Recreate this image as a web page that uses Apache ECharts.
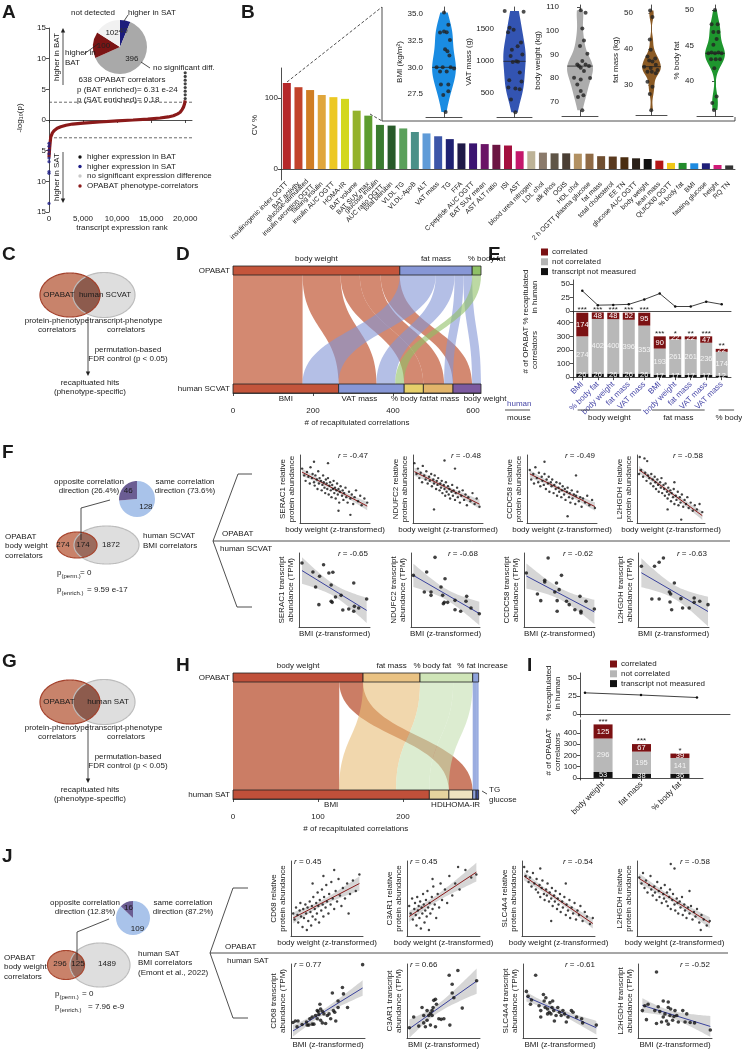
<!DOCTYPE html>
<html><head><meta charset="utf-8">
<script src="https://cdn.jsdelivr.net/npm/echarts@6/dist/echarts.min.js"></script>
<style>html,body{margin:0;padding:0;background:#fff}#c{width:742px;height:1050px}</style>
</head><body><div id="c"></div>
<script>
// ================= DATA =================
// A
const A_curve=[[0,-6.1],[100,-4.5],[250,-2.8],[500,-2.1],[740,-1.75],[1200,-1.35],[1730,-1.1],[2500,-0.85],[3460,-0.66],[5000,-0.5],[7400,-0.33],[10000,-0.15],[12350,0],[14500,0.15],[16300,0.33],[17500,0.5],[18270,0.7],[18900,1.0],[19260,1.26],[19550,1.7],[19750,2.1],[19900,2.6],[20000,3.2]];
const A_higherBAT=[[20000,3.5],[20000,4.1],[20000,4.7],[20000,5.3],[20000,5.9],[20000,6.5],[20000,7.1],[20000,7.7]];
const A_higherSAT=[[0,-3.8],[0,-4.3],[0,-4.9],[0,-5.5],[0,-6.2],[0,-6.8],[0,-8.4],[0,-8.7],[0,-13.6]];
const A_threshold=2.9;
const A_pieNames=['higher in SAT','no significant diff.','higher in BAT','not detected'];
const A_pieValues=[40,396,100,102];
const A_xTicks=[0,5000,10000,15000,20000];
// B
const B_cats=['insulinogenic index OGTT','BAT activity','glucose-stimulated\ninsulin secretion OGTT','fasting insulin','insulin AUC OGTT','HOMA-IR','BAT volume','BAT SUV max','glucose insulin\nAUC ratio OGTT','total bilirubin','VLDL TG','VLDL-ApoB','ALT','VAT mass','TG','FFA','C-peptide AUC OGTT','BAT SUV mean','AST ALT ratio','ISI','AST','blood urea nitrogen','LDL chol','alk phos','OGIS','HDL chol','2 h OGTT plasma glucose','fat mass','total cholesterol','EE TN','glucose AUC OGTT','body weight','lean mass','QUICKI0 OGTT','% body fat','BMI','fasting glucose','height','RQ TN'];
const B_cv=[121,115,111,104,101,98.6,82,75,62,61,57,52,50,46,42,36,36,35,34,33,25,25,23,22,22,21.5,21.5,18,17.5,16.5,15,14,11.7,8.5,8.5,8,8,5.6,5];
const B_ticks=[0,100];
const V_bmi=[[0,35.15],[0.24,34.0],[-0.22,33.26],[0,33.35],[0.15,33.3],[0.33,32.57],[0.19,31.5],[0.06,31.7],[0.3,31.1],[-0.41,30.0],[-0.07,30.0],[0.37,30.0],[0.56,29.9],[-0.22,29.6],[0.15,29.6],[-0.17,28.4],[0.24,28.4],[0.24,27.75],[-0.04,27.4],[0.09,25.8]];
const V_vat=[[-0.56,1780],[0.52,1770],[-0.28,1520],[-0.05,1490],[-0.37,1450],[0.37,1290],[0.18,1230],[-0.15,1175],[0.45,1100],[-0.22,1080],[0.1,995],[-0.1,985],[0.3,820],[-0.3,700],[0.4,680],[-0.35,585],[0.05,570],[0.3,560],[-0.2,400],[0.05,200],[0.2,990]];
const V_bw=[[0.04,108.6],[0.31,107.5],[0.13,100.9],[0.22,95.9],[0,93.5],[0.41,90.3],[0.13,87.2],[-0.15,85.8],[0.31,85.8],[-0.06,85.1],[0.5,85.1],[0.04,84.4],[0.22,83.0],[-0.33,80.2],[0.56,80.1],[0.04,79.5],[-0.15,77.4],[0.04,74.6],[0.19,72.8],[-0.11,72.1],[0.13,66.5]];
const V_fm=[[-0.09,50.7],[0.06,48.9],[-0.11,42.6],[-0.05,39.8],[-0.26,37.9],[0.24,37.4],[-0.15,36.8],[0.06,36.5],[0.28,35.6],[-0.47,35.1],[-0.05,34.7],[0.39,34.2],[-0.26,33.7],[0.02,33.7],[0.28,33.3],[-0.26,30.9],[0.06,29.5],[-0.11,27.5],[-0.02,23.0]];
const V_pbf=[[0,50],[-0.19,48],[0.15,48],[-0.09,46.9],[0.19,46.9],[0.09,45.9],[-0.09,45.1],[-0.37,43.9],[-0.19,44.0],[0,43.9],[0.19,44.0],[0.37,43.9],[-0.22,43.05],[0.04,43.05],[0.28,43.05],[-0.04,41.8],[0.09,37.8],[-0.15,36.9],[-0.06,35.9]];
// D
const D_top=['body weight','fat mass','% body fat'];
const D_bottom=['BMI','VAT mass','% body fat','fat mass','body weight'];
const D_flows=[['body weight','BMI',174],['body weight','VAT mass',95],['body weight','% body fat',48],['body weight','fat mass',52],['body weight','body weight',48],['fat mass','BMI',90],['fat mass','VAT mass',47],['fat mass','fat mass',22],['fat mass','body weight',22],['% body fat','VAT mass',22]];
const D_ticks=[0,200,400,600];
// E
const E_cats=['BMI','% body fat','body weight','fat mass','VAT mass','BMI','body weight','fat mass','VAT mass','VAT mass'];
const E_groups=['body weight','fat mass','% body fat'];
const E_correlated=[174,48,48,52,95,90,22,22,47,22];
const E_notCorrelated=[274,402,400,396,353,193,261,261,236,174];
const E_notMeasured=[26,26,26,26,26,17,17,17,17,12];
const E_pct=[37,10.5,11,12,21,32,8,8,17,12];
const E_stars=['***','***','***','***','***','***','*','**','***','**'];
const E_pctTicks=[0,25,50], E_nTicks=[0,100,200,300,400];
// F
const F_pie=[128,46];
const F_venn=[274,174,1872];
const F_r1=[-0.47,-0.48,-0.49,-0.58], F_r2=[-0.65,-0.68,-0.62,-0.63];
const F_genes=['SERAC1','NDUFC2','CCDC58','L2HGDH'];
const F_p1=[[3,80],[6,70],[8,62],[10,75],[12,68],[14,58],[15,82],[17,66],[18,72],[20,60],[21,55],[22,70],[24,64],[25,50],[26,76],[27,58],[28,66],[30,62],[31,48],[32,56],[33,70],[34,60],[35,52],[36,44],[37,64],[38,58],[39,50],[40,66],[41,42],[42,55],[43,60],[44,48],[45,38],[46,56],[47,50],[48,62],[49,44],[50,52],[51,36],[52,48],[53,58],[54,42],[55,50],[56,30],[57,46],[58,54],[60,40],[61,48],[62,34],[63,44],[65,52],[66,38],[68,30],[70,46],[72,36],[74,42],[76,28],[78,38],[80,48],[83,32],[86,40],[88,26],[92,36],[96,30],[40,88],[55,18],[72,12],[20,90]];
const F_p2=[[2,88],[5,72],[7,80],[9,66],[11,74],[13,60],[14,84],[16,70],[18,64],[19,76],[21,58],[23,68],[24,62],[26,72],[27,54],[29,64],[30,58],[31,70],[33,50],[34,62],[35,56],[36,66],[38,48],[39,58],[40,52],[41,62],[42,44],[44,56],[45,50],[46,40],[47,60],[48,46],[50,54],[51,42],[52,50],[53,36],[55,46],[56,56],[57,40],[58,48],[60,34],[61,44],[63,52],[64,38],[66,46],[67,30],[69,40],[71,48],[73,34],[75,42],[77,26],[79,38],[82,32],[85,44],[88,28],[91,36],[95,24],[30,20],[60,80],[45,92]];
const F_p3=[[4,78],[6,64],[9,72],[10,58],[12,82],[14,66],[16,60],[17,74],[19,54],[21,68],[22,62],[24,56],[25,72],[27,50],[28,64],[30,58],[31,68],[32,46],[34,60],[35,54],[36,64],[38,44],[39,56],[41,50],[42,60],[43,40],[45,52],[46,46],[47,58],[49,38],[50,48],[51,54],[53,42],[54,50],[55,34],[57,46],[58,52],[60,38],[61,44],[62,30],[64,48],[65,36],[67,42],[69,28],[70,40],[72,46],[74,32],[76,38],[78,24],[80,36],[83,30],[86,40],[89,26],[93,34],[97,22],[58,10],[25,90],[70,70]];
const F_p4=[[4,97],[11,95],[15,91],[3,72],[6,78],[9,68],[12,74],[14,62],[16,70],[18,66],[20,58],[21,72],[23,64],[24,54],[26,68],[27,60],[28,50],[30,64],[31,56],[32,46],[34,60],[35,52],[36,66],[37,44],[39,56],[40,50],[41,40],[42,58],[44,46],[45,36],[46,52],[47,42],[49,48],[50,32],[51,44],[53,38],[54,50],[55,28],[57,40],[58,34],[60,46],[61,26],[63,38],[64,30],[66,42],[68,24],[70,34],[72,28],[74,38],[76,22],[79,30],[82,18],[85,26],[88,20],[92,28],[96,16],[65,5],[45,20],[55,60]];
const F_t1=[[4.2,86.5],[19.6,74.3],[29.0,68.5],[23.4,54.1],[34.6,84.2],[42.1,73.0],[47.7,73.9],[45.3,56.8],[28.0,30.2],[51.4,40.5],[45.3,34.7],[46.7,33.3],[59.3,42.8],[61.7,23.0],[70.1,24.3],[77.1,59.5],[78.0,27.9],[77.1,21.2],[84.1,25.7],[95.3,37.8]];
const F_t2=[[3.4,69.8],[22.7,74.3],[34.8,94.1],[49.3,65.3],[43.5,54.1],[19.3,47.3],[29.0,47.3],[29.0,42.8],[45.9,42.8],[46.9,31.5],[48.3,33.3],[53.1,33.3],[63.8,36.0],[63.8,23.4],[72.0,21.2],[80.7,41.4],[79.7,34.7],[87.0,25.7],[99.0,18.0]];
const F_t3=[[3.3,73.0],[18.9,44.6],[23.6,35.6],[29.2,60.8],[29.2,63.1],[34.0,93.2],[43.4,47.3],[45.8,59.5],[49.5,50.5],[52.8,69.8],[46.7,35.6],[46.7,21.2],[59.9,34.7],[63.7,30.2],[71.7,23.4],[78.8,41.4],[80.2,21.2],[80.2,18.9],[87.3,34.7],[99.1,24.3]];
const F_t4=[[4.7,82.0],[23.3,82.0],[29.8,87.4],[35.8,93.2],[19.5,37.8],[29.8,37.8],[51.2,59.5],[44.2,47.3],[46.0,44.6],[45.1,33.8],[47.4,23.4],[60.5,38.3],[62.8,25.7],[72.1,25.7],[79.1,39.2],[79.1,33.3],[87.0,34.7],[98.6,30.2]];
// H
const H_top=['body weight','fat mass','% body fat','% fat increase'];
const H_bottom=['BMI','HDL','HOMA-IR','TG','glucose'];
const H_flows=[['body weight','BMI',125],['body weight','HOMA-IR',28],['fat mass','BMI',67],['% body fat','BMI',39],['% body fat','HDL',23],['% fat increase','TG',4],['% fat increase','glucose',3]];
const H_ticks=[0,100,200];
// I
const I_cats=['body weight','fat mass','% body fat'];
const I_correlated=[125,67,39];
const I_notCorrelated=[296,195,141];
const I_notMeasured=[53,38,36];
const I_pct=[29.5,26.5,23];
const I_stars=['***','***','*'];
// J
const J_pie=[109,16];
const J_venn=[296,125,1489];
const J_r1=[0.45,0.45,-0.54,-0.58], J_r2=[0.77,0.66,-0.61,-0.52];
const J_genes=['CD68','C3AR1','SLC4A4','L2HGDH'];
const J_p1=[[3,30],[5,22],[7,38],[9,28],[10,18],[12,34],[13,44],[14,26],[16,12],[17,36],[18,24],[20,42],[21,30],[22,8],[23,38],[24,20],[26,46],[27,32],[28,14],[29,40],[30,26],[31,52],[33,36],[34,22],[35,44],[36,30],[37,58],[38,40],[39,18],[40,48],[42,34],[43,62],[44,42],[45,26],[46,52],[48,38],[49,68],[50,46],[52,30],[53,56],[55,42],[56,72],[58,50],[60,36],[62,60],[64,46],[66,76],[68,54],[70,40],[72,64],[75,50],[78,70],[82,56],[86,74],[90,60],[95,82],[60,88],[45,80],[30,70],[80,30]];
const J_p2=[[3,40],[5,30],[7,50],[8,22],[10,36],[11,44],[12,28],[13,14],[14,52],[15,34],[16,40],[17,24],[18,46],[19,10],[20,38],[21,30],[22,56],[23,42],[24,18],[25,34],[26,48],[27,26],[28,60],[29,38],[30,8],[31,44],[32,30],[34,52],[35,36],[36,66],[38,42],[40,24],[42,56],[44,38],[46,70],[48,48],[52,62],[55,44],[58,80],[62,54],[66,70],[72,62],[80,88],[88,78],[95,82],[70,92],[35,76]];
const J_p3=[[3,92],[5,80],[7,86],[9,72],[11,78],[13,66],[15,84],[17,70],[19,62],[20,76],[22,58],[24,68],[25,52],[27,64],[28,74],[30,56],[31,48],[33,62],[34,54],[35,70],[37,46],[38,58],[40,50],[41,64],[42,40],[44,54],[45,46],[46,60],[48,36],[49,50],[50,42],[52,56],[53,32],[55,46],[56,38],[58,52],[60,28],[61,42],[63,34],[65,48],[66,24],[68,38],[70,30],[72,44],[74,22],[76,34],[78,28],[80,40],[83,20],[86,32],[89,26],[93,16],[97,24],[60,70],[40,20],[25,90]];
const J_p4=[[3,78],[6,70],[8,84],[10,64],[12,74],[14,58],[16,68],[18,80],[19,62],[21,54],[23,66],[24,58],[26,48],[27,72],[29,60],[30,52],[32,64],[33,44],[35,56],[36,50],[37,68],[39,46],[40,58],[41,40],[43,52],[44,62],[45,36],[47,48],[48,56],[50,42],[51,34],[53,50],[54,44],[55,30],[57,46],[58,38],[60,52],[61,28],[63,42],[64,34],[66,24],[68,38],[70,30],[72,40],[74,22],[76,32],[78,26],[80,36],[83,18],[86,28],[89,22],[93,14],[97,20],[45,96],[50,90],[70,60],[85,8]];
const J_t1=[[2.7,20.9],[5.9,23.0],[9.5,23.0],[8.2,15.2],[15.0,18.3],[20.9,21.7],[24.1,17.4],[25.5,26.1],[28.6,28.3],[30.9,18.7],[33.2,30.4],[35.5,37.0],[36.8,35.7],[39.1,45.7],[37.7,31.7],[40.0,39.1],[42.3,36.1],[44.5,32.6],[46.8,19.6],[49.1,30.4],[51.4,32.6],[53.6,26.1],[57.3,37.0],[55.9,60.9],[59.1,34.8],[63.6,50.0],[63.6,41.3],[69.5,68.3],[70.9,59.6],[76.4,41.3],[96.8,99.1],[42.3,20.4],[28.6,18.7],[21.8,17.4],[35.5,26.1],[60.5,23.0],[40.0,23.9]];
const J_t2=[[3.2,13.9],[9.2,28.3],[16.1,16.1],[20.6,41.3],[22.9,20.4],[25.2,15.2],[27.5,37.0],[29.8,30.4],[32.1,33.5],[34.4,37.0],[36.7,50.9],[39.0,52.2],[35.8,41.3],[32.1,17.4],[39.0,15.2],[43.6,26.1],[46.8,25.2],[50.5,26.1],[58.7,17.4],[57.8,84.8],[61.9,72.6],[61.9,60.9],[64.2,54.3],[69.7,91.3],[75.7,40.4],[95.4,77.4],[27.5,23.9],[34.4,30.4],[22.9,30.4],[40.4,45.7]];
const J_t3=[[4.6,63.0],[6.9,56.5],[10.1,45.7],[17.1,84.8],[11.5,51.3],[21.7,43.5],[24.0,37.0],[27.6,58.7],[28.6,50.0],[30.0,41.3],[30.9,54.3],[33.2,32.6],[35.5,34.8],[36.4,47.8],[39.2,41.3],[40.1,50.0],[41.5,37.0],[42.4,23.0],[44.7,30.4],[47.0,41.3],[49.3,34.8],[53.9,37.0],[58.5,21.7],[60.8,28.3],[65.4,37.0],[67.7,34.8],[72.4,28.3],[79.3,26.1],[80.6,20.4],[99.1,17.4],[24.0,28.3],[33.2,39.1],[37.8,32.6],[51.6,30.4],[56.2,32.6]];
const J_t4=[[5.9,37.0],[11.4,24.8],[9.1,43.5],[13.6,45.7],[25.0,89.1],[22.7,37.0],[27.3,42.2],[29.5,35.7],[34.1,50.0],[36.4,32.6],[40.9,48.7],[40.9,41.3],[43.2,30.4],[44.1,39.1],[25.0,19.6],[31.8,21.7],[38.6,23.0],[40.9,18.7],[46.8,23.9],[48.6,29.1],[52.3,30.4],[54.5,21.7],[60.5,37.0],[63.6,21.7],[65.9,32.6],[70.5,20.9],[76.4,20.4],[97.7,10.9],[34.1,28.3],[50.0,37.0]];

// ================= STYLE / HELPERS =================
const FONT='"Liberation Sans", Arial, Helvetica, sans-serif';
const TXT='#1a1a1a';
const B_colors=['#b5282a','#c2432b','#d07e24','#e0a63c','#ecc823','#d3d720','#94b22c','#5e9d30','#3a7b30','#285a2a','#5aa05a','#4a9088','#5f9bd8','#3c56a8','#1f2172','#1f1a48','#3b1570','#6a1466','#6b1542','#a3103f','#c4186b','#bdb397','#8a7a6b','#5f5547','#4a3e34','#b29162','#8f6a45','#6f4e30','#5a3a1f','#4a2d10','#2a2018','#111111','#b31616','#f0c818','#228b2c','#1e8be0','#1f1f78','#d01a78','#333333'];
const grids=[],xA=[],yA=[],S=[],G=[];
const AX={show:true,lineStyle:{color:'#222',width:0.8}};
const TK={show:true,length:3,lineStyle:{color:'#222',width:0.8}};
function LBL(o){return Object.assign({fontSize:8,color:TXT,fontFamily:FONT},o||{});}
function grid(l,t,r,b,x,y){grids.push({left:l,top:t,width:r-l,height:b-t});const i=grids.length-1;
 xA.push(Object.assign({gridIndex:i,splitLine:{show:false}},x));yA.push(Object.assign({gridIndex:i,splitLine:{show:false}},y));return i;}
function T(x,y,text,o){o=o||{};const s=o.s||8;const st={text:String(text),fill:o.c||TXT,font:`${o.i?'italic ':''}${o.b?'bold ':''}${s}px ${FONT}`,
 textAlign:o.a||'left',textVerticalAlign:o.v||'middle',align:o.a||'left',verticalAlign:o.v||'middle',lineHeight:o.lh||Math.round(s*1.15)};
 if(o.rich)st.rich=o.rich;G.push({type:'text',x:x,y:y,rotation:o.r||0,style:st,z:100,silent:true});}
function L(pts,o){o=o||{};G.push({type:'polyline',shape:{points:pts},style:{stroke:o.c||'#222',lineWidth:o.w||0.8,lineDash:o.d||null,fill:null},z:o.z||60,silent:true});}
function arrowHead(x,y,dir){const s=2.2;const d=dir==='up'?1:-1;G.push({type:'polygon',shape:{points:[[x,y],[x-s,y+d*s*2],[x+s,y+d*s*2]]},style:{fill:'#222'},z:60,silent:true});}
function RECT(x,y,w,h,fill){G.push({type:'rect',shape:{x:x,y:y,width:w,height:h},style:{fill:fill},z:60,silent:true});}
function rTxt(x,y,r,align){T(x,y,'{i|r} = '+r.toFixed(2),{a:align,rich:{i:{font:`italic 8px ${FONT}`,fill:TXT}}});}
function ell(cx,cy,rx,ry,n){const p=[];for(let k=0;k<n;k++){const t=2*Math.PI*k/n;p.push([cx+rx*Math.cos(t),cy+ry*Math.sin(t)]);}return p;}
function venn(A,B,cA,cB,cO,sA,sB){
 const pa=ell(A[0],A[1],A[2],A[3],160),pb=ell(B[0],B[1],B[2],B[3],160);
 const inE=(p,E)=>((p[0]-E[0])/E[2])**2+((p[1]-E[1])/E[3])**2<=1.0001;
 const ov=pa.filter(p=>inE(p,B)).concat(pb.filter(p=>inE(p,A)));
 const cx=ov.reduce((s,p)=>s+p[0],0)/ov.length,cy=ov.reduce((s,p)=>s+p[1],0)/ov.length;
 ov.sort((p,q)=>Math.atan2(p[1]-cy,p[0]-cx)-Math.atan2(q[1]-cy,q[0]-cx));
 G.push({type:'polygon',shape:{points:pb},style:{fill:cB},z:20,silent:true});
 G.push({type:'polygon',shape:{points:pa},style:{fill:cA},z:21,silent:true});
 G.push({type:'polygon',shape:{points:ov},style:{fill:cO},z:22,silent:true});
 G.push({type:'polygon',shape:{points:pb},style:{fill:'none',stroke:sB,lineWidth:1.2},z:23,silent:true});
 G.push({type:'polygon',shape:{points:pa},style:{fill:'none',stroke:sA,lineWidth:1.2},z:24,silent:true});
}
function linfit(p){const n=p.length;let mx=0,my=0;p.forEach(q=>{mx+=q[0];my+=q[1];});mx/=n;my/=n;let sxx=0,sxy=0;p.forEach(q=>{sxx+=(q[0]-mx)**2;sxy+=(q[0]-mx)*(q[1]-my);});
 const b=sxy/sxx,a=my-b*mx;let ss=0;p.forEach(q=>{ss+=(q[1]-a-b*q[0])**2;});const s=Math.sqrt(ss/(n-2));
 const xs=p.map(q=>q[0]);return {a,b,s,n,mx,sxx,x0:Math.min(...xs),x1:Math.max(...xs)};}
function kde(vals,m){const n=vals.length,mean=vals.reduce((s,v)=>s+v,0)/n;const sd=Math.sqrt(vals.reduce((s,v)=>s+(v-mean)**2,0)/(n-1));
 const so=[...vals].sort((a,b)=>a-b);const q=f=>{const h=(n-1)*f,lo=Math.floor(h);return so[lo]+(so[Math.min(lo+1,n-1)]-so[lo])*(h-lo);};
 const bw=0.9*Math.min(sd,(q(0.75)-q(0.25))/1.34)*Math.pow(n,-0.2);const out=[];let mx=0;
 for(let k=0;k<=m;k++){const y=so[0]+(so[n-1]-so[0])*k/m;let d=0;vals.forEach(v=>{d+=Math.exp(-0.5*((y-v)/bw)**2);});out.push([y,d]);mx=Math.max(mx,d);}
 out.forEach(o=>o[1]/=mx);return {out,q};}

// ================= PANEL A =================
T(2,13,'A',{s:19,b:true});
const gA=grid(49,28,192,212,
 {type:'value',min:0,max:21000,axisLine:AX,axisTick:Object.assign({},TK,{customValues:A_xTicks}),axisLabel:LBL({customValues:A_xTicks,margin:3})},
 {type:'value',min:-15,max:15,interval:5,axisLine:AX,axisTick:TK,axisLabel:LBL({formatter:v=>Math.abs(v),margin:3})});
[A_threshold,-A_threshold].forEach(v=>S.push({type:'line',xAxisIndex:gA,yAxisIndex:gA,data:[[0,v],[21000,v]],symbol:'none',silent:true,lineStyle:{color:'#444',width:0.8,type:[3,2]}}));
S.push({type:'line',xAxisIndex:gA,yAxisIndex:gA,data:A_curve,symbol:'none',silent:true,lineStyle:{color:'#8b1a1a',width:3.2},z:3});
S.push({type:'scatter',xAxisIndex:gA,yAxisIndex:gA,data:A_higherBAT,symbolSize:3.2,silent:true,itemStyle:{color:'#111'},z:4});
S.push({type:'scatter',xAxisIndex:gA,yAxisIndex:gA,data:A_higherSAT,symbolSize:3.2,silent:true,itemStyle:{color:'#1c1c86'},z:4});
S.push({type:'pie',center:[120,47],radius:[0,27],startAngle:90,silent:true,
 data:A_pieValues.map((v,i)=>({value:v,name:A_pieNames[i],itemStyle:{color:['#1c1c7c','#a9a9a9','#7b1414','#f1f1f1'][i]},label:{color:['#333','#222','#222','#222'][i]}})),
 label:{show:true,position:'inner',formatter:'{c}',fontSize:8,fontFamily:FONT},labelLine:{show:false}});
T(93,13,'not detected',{a:'center'});T(128,13,'higher in SAT');
T(65,53,'higher in');T(65,63,'BAT');T(153,68,'no significant diff.');
L([[124,21],[128,15]]);L([[141,62],[150,68]]);L([[84,54],[98,44]]);
T(122,80,'638 OPABAT correlators',{a:'center'});
T(77,90,'p (BAT enriched)= 6.31 e-24');T(77,100,'p (SAT enriched)= 0.18');
L([[63,85],[63,31]]);arrowHead(63,28,'up');L([[63,152],[63,199]]);arrowHead(63,203,'down');
T(57,57,'higher in BAT',{r:Math.PI/2,a:'center'});T(57,177,'higher in SAT',{r:Math.PI/2,a:'center'});
[['higher expression in BAT','#111'],['higher expression in SAT','#1c1c86'],['no significant expression difference','#c8c8c8'],['OPABAT phenotype-correlators','#8b1a1a']].forEach((d,i)=>{
 const y=[157,166.5,176,186][i];G.push({type:'circle',shape:{cx:80,cy:y,r:1.7},style:{fill:d[1]},z:60,silent:true});T(87,y,d[0]);});
T(20,118,'-log₁₀(p)',{r:Math.PI/2,a:'center'});
T(122,228,'transcript expression rank',{a:'center'});

// ================= PANEL B =================
T(241,13,'B',{s:19,b:true});
const gB=grid(281,68,735,180,
 {type:'category',data:B_cats,axisLine:AX,axisTick:{show:false},axisLabel:LBL({fontSize:6.8,rotate:45,interval:0,margin:3,lineHeight:7.5})},
 {type:'value',min:-15.5,max:142,axisLine:AX,axisTick:Object.assign({},TK,{customValues:B_ticks}),axisLabel:LBL({customValues:B_ticks,margin:3})});
S.push({type:'bar',xAxisIndex:gB,yAxisIndex:gB,barWidth:8,silent:true,data:B_cv.map((v,i)=>({value:v,itemStyle:{color:B_colors[i]}}))});
T(255,125,'CV %',{r:Math.PI/2,a:'center'});
L([[287,82],[382,7]],{d:[3,2]});L([[370,114],[382,121]],{d:[3,2]});
L([[382,7],[382,121],[735,121],[735,117]]);
function violin(l,r,t,b,pts,ymin,ymax,ticks,dec,color,hw,name,gap){
 const gi=grid(l,t,r,b,{type:'value',min:-1,max:1,axisLine:AX,axisTick:{show:false},axisLabel:{show:false}},
  {type:'value',min:ymin,max:ymax,axisLine:AX,axisTick:Object.assign({},TK,{customValues:ticks}),axisLabel:LBL({customValues:ticks,formatter:v=>v.toFixed(dec),margin:3}),
   name:name,nameLocation:'middle',nameGap:gap,nameTextStyle:LBL()});
 const ys=pts.map(p=>p[1]);const K=kde(ys,80);const dens=K.out;const med=K.q(0.5);
 let dm=0;for(let k=1;k<dens.length;k++){if(dens[k][0]>=med){const f=(med-dens[k-1][0])/(dens[k][0]-dens[k-1][0]);dm=dens[k-1][1]+f*(dens[k][1]-dens[k-1][1]);break;}}
 S.push({type:'custom',xAxisIndex:gi,yAxisIndex:gi,silent:true,data:[[0,med]],renderItem:(p,api)=>{
  const pl=[];dens.forEach(d=>pl.push(api.coord([-d[1]*hw,d[0]])));for(let k=dens.length-1;k>=0;k--)pl.push(api.coord([dens[k][1]*hw,dens[k][0]]));
  const m0=api.coord([-dm*hw,med]),m1=api.coord([dm*hw,med]);
  return {type:'group',children:[{type:'polygon',shape:{points:pl},style:{fill:color}},{type:'line',shape:{x1:m0[0],y1:m0[1],x2:m1[0],y2:m1[1]},style:{stroke:'#222',lineWidth:0.8}}]};}});
 S.push({type:'scatter',xAxisIndex:gi,yAxisIndex:gi,data:pts,symbolSize:4,silent:true,itemStyle:{color:'#222'},z:5});
}
violin(426,462,7,117,V_bmi,25.34,35.66,[27.5,30,32.5,35],1,'#1a8ce2',0.66,'BMI (kg/m²)',20);
violin(497,532,7,117,V_vat,125,1844,[500,1000,1500],0,'#3354b2',0.64,'VAT mass (g)',22);
violin(562,598,5,116,V_bw,64.1,110.8,[70,80,90,100,110],0,'#acacac',0.72,'body weight (kg)',13);
violin(636,667,5,115,V_fm,21.7,52.2,[30,40,50],0,'#8b5a24',0.6,'fat mass (kg)',13);
violin(697,733,5,116,V_pbf,35.07,50.7,[40,45,50],0,'#1e962e',0.55,'% body fat',13);

// ================= PANEL C / G (Venn schematics) =================
function schematic(y0,letter,rightName){
 T(2,y0-40,letter,{s:19,b:true});
 venn([70,y0,30,22],[104,y0,31,22.5],'#c8836b','#dedede','#8d5b4d','#a3412c','#bcbcbc');
 T(59,y0,'OPABAT',{a:'center'});T(rightName==='human SAT'?108:105,y0,rightName,{a:'center'});
 T(57,y0+30,'protein-phenotype\ncorrelators',{a:'center',lh:9});T(126,y0+30,'transcript-phenotype\ncorrelators',{a:'center',lh:9});
 L([[88,y0+22],[88,y0+78]]);arrowHead(88,y0+81,'down');
 T(128,y0+59,'permutation-based\nFDR control (p < 0.05)',{a:'center',lh:9});
 T(90,y0+92,'recapituated hits\n(phenotype-specific)',{a:'center',lh:9});
}
schematic(295,'C','human SCVAT');
schematic(702,'G','human SAT');

// ================= ALLUVIAL (D, H) =================
function alluvial(o){
 const gi=grid(o.l,o.t,o.r,o.b,
  {type:'value',min:0,max:o.xmax,offset:o.off,axisLine:AX,axisTick:Object.assign({},TK,{customValues:o.ticks}),axisLabel:LBL({customValues:o.ticks,margin:3}),
   name:'# of recapitulated correlations',nameLocation:'middle',nameGap:15,nameTextStyle:LBL()},
  {type:'value',min:0,max:1,show:false});
 const bh=9/(o.b-o.t);
 S.push({type:'custom',xAxisIndex:gi,yAxisIndex:gi,silent:true,data:[[0,0.5]],renderItem:(p,api)=>{
  const ch=[];const tTot={},bTot={};o.top.forEach(c=>tTot[c]=0);o.bottom.forEach(c=>bTot[c]=0);
  o.flows.forEach(f=>{tTot[f[0]]+=f[2];bTot[f[1]]+=f[2];});
  const tS={},bS={};let acc=0;o.top.forEach(c=>{tS[c]=acc;acc+=tTot[c];});acc=0;o.bottom.forEach(c=>{bS[c]=acc;acc+=bTot[c];});
  const byTop=[...o.flows].sort((a,b)=>o.top.indexOf(a[0])-o.top.indexOf(b[0])||o.bottom.indexOf(a[1])-o.bottom.indexOf(b[1]));
  const byBot=[...o.flows].sort((a,b)=>o.bottom.indexOf(a[1])-o.bottom.indexOf(b[1])||o.top.indexOf(a[0])-o.top.indexOf(b[0]));
  const tp=new Map(),bp=new Map();const tc={...tS},bc={...bS};
  byTop.forEach(f=>{tp.set(f,[tc[f[0]],tc[f[0]]+f[2]]);tc[f[0]]+=f[2];});
  byBot.forEach(f=>{bp.set(f,[bc[f[1]],bc[f[1]]+f[2]]);bc[f[1]]+=f[2];});
  const yT=1-bh,yB=bh;
  o.flows.forEach(f=>{const a=tp.get(f),b=bp.get(f);
   const A0=api.coord([a[0],yT]),A1=api.coord([a[1],yT]),B0=api.coord([b[0],yB]),B1=api.coord([b[1],yB]);const ym=(A0[1]+B0[1])/2;
   const d=`M${A0[0]},${A0[1]} C${A0[0]},${ym} ${B0[0]},${ym} ${B0[0]},${B0[1]} L${B1[0]},${B1[1]} C${B1[0]},${ym} ${A1[0]},${ym} ${A1[0]},${A1[1]} Z`;
   ch.push({type:'path',shape:{pathData:d},style:{fill:o.flowColor[f[0]]}});});
  const strat=(cats,st,tot,y0,y1,col,labels,ly,sh)=>{cats.forEach((c,i)=>{const P0=api.coord([st[c],y1]),P1=api.coord([st[c]+tot[c],y0]);
   ch.push({type:'rect',shape:{x:P0[0],y:P0[1],width:P1[0]-P0[0],height:P1[1]-P0[1]},style:{fill:col[c],stroke:'#222',lineWidth:0.8}});
   const lab=labels?labels[i]:c;if(lab)ch.push({type:'text',x:(P0[0]+P1[0])/2+(sh&&sh[i]||0),y:ly(P0[1],P1[1]),style:{text:lab,fill:TXT,font:`8px ${FONT}`,textAlign:'center',textVerticalAlign:'middle',align:'center',verticalAlign:'middle'}});});};
  strat(o.top,tS,tTot,yT,1,o.topColor,null,(a,b)=>a-7,o.topShift);
  strat(o.bottom,bS,bTot,0,yB,o.botColor,o.botLabels,(a,b)=>b+6,o.botShift);
  return {type:'group',children:ch};}});
 T(o.l-3,o.t+4.5,'OPABAT',{a:'right'});T(o.l-3,o.b-4.5,o.botName,{a:'right'});
}
T(176,255,'D',{s:19,b:true});
alluvial({l:233,t:266,r:233+620*0.4,b:393,off:11,xmax:620,ticks:D_ticks,top:D_top,bottom:D_bottom,flows:D_flows,botName:'human SCVAT',
 topShift:[0,0,10],botShift:[0,-12,-4,6,18],
 topColor:{'body weight':'#c4553b','fat mass':'#8797d6','% body fat':'#8fc066'},
 flowColor:{'body weight':'rgba(196,98,66,0.75)','fat mass':'rgba(130,148,214,0.6)','% body fat':'rgba(143,192,102,0.6)'},
 botColor:{'BMI':'#c4553b','VAT mass':'#8797d6','% body fat':'#e6cf6a','fat mass':'#e2b46a','body weight':'#7c5aa0'}});
T(176,666,'H',{s:19,b:true});
alluvial({l:233,t:673,r:233+289*0.85,b:799,off:11,xmax:289,ticks:H_ticks,top:H_top,bottom:H_bottom,flows:H_flows,botName:'human SAT',botLabels:['BMI','HDL','HOMA-IR','',''],
 topShift:[0,0,-14,7],botShift:[0,0,2,0,0],
 topColor:{'body weight':'#c0503a','fat mass':'#e9c283','% body fat':'#cfe5b8','% fat increase':'#8ea2dc'},
 flowColor:{'body weight':'rgba(188,88,58,0.78)','fat mass':'rgba(232,188,118,0.6)','% body fat':'rgba(196,224,176,0.6)','% fat increase':'rgba(130,152,216,0.8)'},
 botColor:{'BMI':'#c0503a','HDL':'#e6d49e','HOMA-IR':'#efe3c0','TG':'#8ea2dc','glucose':'#3d4d9a'}});
T(489,790,'TG');T(489,800,'glucose');L([[487,794],[482,791]]);

// ================= STACKED BARS (E, I) =================
function legend3(x,y){[['correlated','#7b1113'],['not correlated','#b5b5b5'],['transcript not measured','#111']].forEach((d,i)=>{RECT(x,y+i*9.8-3.5,7,7,d[1]);T(x+11,y+i*9.8,d[0]);});}
function stacked(gi,nm,nc,c,stars,bw){
 const layers=[[nm,'#111111','#ffffff'],[nc,'#b8b8b8','#f4f4f4'],[c,'#7b1113','#ffffff']];
 S.push({type:'custom',xAxisIndex:gi,yAxisIndex:gi,silent:true,data:nm.map((v,i)=>[i+1,v+nc[i]+c[i]]),renderItem:(p,api)=>{
  const i=p.dataIndex,x=i+1;const ch=[];let base=0;const labs=[];
  layers.forEach(Ly=>{const v=Ly[0][i];const p0=api.coord([x,base]),p1=api.coord([x,base+v]);
   ch.push({type:'rect',shape:{x:p0[0]-bw/2,y:p1[1],width:bw,height:p0[1]-p1[1]},style:{fill:Ly[1]}});
   labs.push({type:'text',x:p0[0],y:(p0[1]+p1[1])/2,style:{text:String(v),fill:Ly[2],font:`7.5px ${FONT}`,textAlign:'center',textVerticalAlign:'middle',align:'center',verticalAlign:'middle'}});base+=v;});
  const pt=api.coord([x,base]);
  labs.push({type:'text',x:pt[0],y:pt[1]-3,style:{text:stars[i],fill:TXT,font:`8px ${FONT}`,textAlign:'center',textVerticalAlign:'middle',align:'center',verticalAlign:'middle'}});
  return {type:'group',children:ch.concat(labs)};}});
}
// E
T(488,255,'E',{s:19,b:true});
legend3(541,252);
const eTicks=E_cats.map((_,i)=>i+1);
const gEl=grid(573,280,731,313,{type:'value',min:0.4,max:10.6,axisLine:AX,axisTick:{show:false},axisLabel:{show:false}},
 {type:'value',min:-4,max:57,axisLine:AX,axisTick:Object.assign({},TK,{customValues:E_pctTicks}),axisLabel:LBL({customValues:E_pctTicks,margin:3})});
S.push({type:'line',xAxisIndex:gEl,yAxisIndex:gEl,data:E_pct.map((v,i)=>[i+1,v]),symbol:'circle',symbolSize:2.5,silent:true,itemStyle:{color:'#111'},lineStyle:{color:'#111',width:0.8}});
const gEb=grid(573,312,731,380,{type:'value',min:0.4,max:10.6,axisLine:AX,axisTick:Object.assign({},TK,{customValues:eTicks}),
  axisLabel:LBL({customValues:eTicks,formatter:v=>E_cats[Math.round(v)-1],rotate:45,margin:3,color:'#4848a8'})},
 {type:'value',min:-21,max:479,axisLine:AX,axisTick:Object.assign({},TK,{customValues:E_nTicks}),axisLabel:LBL({customValues:E_nTicks,margin:3})});
stacked(gEb,E_notMeasured,E_notCorrelated,E_correlated,E_stars,12);
T(530,297,'% recapitulated\nin human',{r:Math.PI/2,a:'center',lh:9});
T(530,350,'# of OPABAT\ncorrelators',{r:Math.PI/2,a:'center',lh:9});
const xE=v=>573+(v-0.4)*15.49;
[[0.7,4.8,'body weight'],[5.5,8.9,'fat mass'],[9.8,10.8,E_groups[2]]].forEach(g=>{L([[xE(g[0]),410],[xE(g[1]),410]]);T((xE(g[0])+xE(g[1]))/2+(g[2]==='% body fat'?8:0),418,g[2],{a:'center'});});
T(507,404,'human',{c:'#4848a8'});T(507,418,'mouse');L([[505,410],[530,410]]);
// I
T(527,666,'I',{s:19,b:true});
legend3(610,664);
const gIl=grid(580,673,730,717,{type:'value',min:0.911,max:3.59,axisLine:AX,axisTick:{show:false},axisLabel:{show:false}},
 {type:'value',min:-4,max:57,axisLine:AX,axisTick:Object.assign({},TK,{customValues:E_pctTicks}),axisLabel:LBL({customValues:E_pctTicks,margin:3})});
S.push({type:'line',xAxisIndex:gIl,yAxisIndex:gIl,data:I_pct.map((v,i)=>[i+1,v]),symbol:'circle',symbolSize:2.5,silent:true,itemStyle:{color:'#111'},lineStyle:{color:'#111',width:0.8}});
const iTicks=[1,2,3];
const gIb=grid(580,720,703,780,{type:'value',min:0.4,max:3.6,axisLine:AX,axisTick:Object.assign({},TK,{customValues:iTicks}),
  axisLabel:LBL({customValues:iTicks,formatter:v=>I_cats[Math.round(v)-1],rotate:45,margin:3})},
 {type:'value',min:-18,max:513,axisLine:AX,axisTick:Object.assign({},TK,{customValues:E_nTicks}),axisLabel:LBL({customValues:E_nTicks,margin:3})});
stacked(gIb,I_notMeasured,I_notCorrelated,I_correlated,I_stars,19);
T(553,693,'% recapitulated\nin human',{r:Math.PI/2,a:'center',lh:9});
T(553,752,'# of OPABAT\ncorrelators',{r:Math.PI/2,a:'center',lh:9});

// ================= SCATTER PANELS (F, J) =================
function scatterPlot(box,pts,xname,yname,r,rleft,lc,ds){
 const gi=grid(box[0],box[1],box[2],box[3],
  {type:'value',min:0,max:100,axisLine:AX,axisTick:{show:false},axisLabel:{show:false},name:xname,nameLocation:'middle',nameGap:3,nameTextStyle:LBL({verticalAlign:'top'})},
  {type:'value',min:0,max:100,axisLine:AX,axisTick:{show:false},axisLabel:{show:false},name:yname,nameLocation:'middle',nameGap:4,nameTextStyle:LBL({lineHeight:9})});
 const f=linfit(pts);const tq=f.n<30?2.1:2.0;
 S.push({type:'custom',xAxisIndex:gi,yAxisIndex:gi,clip:true,silent:true,data:[[f.mx,50]],renderItem:(p,api)=>{
  const up=[],lo=[];for(let k=0;k<=40;k++){const x=f.x0+(f.x1-f.x0)*k/40;const y=f.a+f.b*x;const e=tq*f.s*Math.sqrt(1/f.n+(x-f.mx)**2/f.sxx);
   up.push(api.coord([x,Math.min(100,y+e)]));lo.unshift(api.coord([x,Math.max(0,y-e)]));}
  return {type:'polygon',shape:{points:up.concat(lo)},style:{fill:'rgba(180,180,180,0.55)'}};}});
 S.push({type:'line',xAxisIndex:gi,yAxisIndex:gi,silent:true,symbol:'none',data:[[f.x0,f.a+f.b*f.x0],[f.x1,f.a+f.b*f.x1]],lineStyle:{color:lc,width:1},z:4});
 S.push({type:'scatter',xAxisIndex:gi,yAxisIndex:gi,silent:true,data:pts,symbolSize:ds,itemStyle:{color:'#111'},z:5});
 rTxt(rleft?box[0]+3:box[2]-2,box[1]+1,r,rleft?'left':'right');
}
// F
T(2,453,'F',{s:19,b:true});
S.push({type:'pie',center:[137,499],radius:[0,18],startAngle:90,silent:true,data:F_pie.map((v,i)=>({value:v,itemStyle:{color:['#a9c3ea','#6b5d93'][i]}})),
 label:{show:true,position:'inner',formatter:'{c}',fontSize:8,color:TXT,fontFamily:FONT},labelLine:{show:false}});
T(89,486,'opposite correlation\ndirection (26.4%)',{a:'center',lh:9});T(185,486,'same correlation\ndirection (73.6%)',{a:'center',lh:9});
venn([77,545,20,13],[106.5,545,32.5,19],'#c9826a','#dedede','#9b6b5d','#a8462f','#bdbdbd');
L([[81,540],[81,508],[110,500]],{z:70});
T(63,545,F_venn[0],{a:'center'});T(83,545,F_venn[1],{a:'center'});T(111,545,F_venn[2],{a:'center'});
T(5,546,'OPABAT\nbody weight\ncorrelators',{lh:9.5});
T(143,541,'human SCVAT\nBMI correlators',{lh:9.5});
T(57,573,'p');T(61.5,576,'(perm.)',{s:6});T(80,573,'= 0');
T(57,590,'p');T(61.5,593,'(enrich.)',{s:6});T(87,590,'= 9.59 e-17');
L([[252,474],[238,474],[213,541],[237,607],[252,607]]);L([[213,541],[730,541]]);
T(222,534,'OPABAT');T(220,549,'human SCVAT');
const FB1=[[300,455,370,523],[413,455,483,523],[527,455,597,523],[637,455,705,523]];
const FB2=[[299,553,370,627],[411,553,480,627],[524,553,595,627],[638,553,709,627]];
[F_p1,F_p2,F_p3,F_p4].forEach((d,i)=>scatterPlot(FB1[i],d,'body weight (z-transformed)',F_genes[i]+' relative\nprotein abundance',F_r1[i],false,'#8b1a1a',2.4));
[F_t1,F_t2,F_t3,F_t4].forEach((d,i)=>scatterPlot(FB2[i],d,'BMI (z-transformed)',F_genes[i]+' transcript\nabundance (TPM)',F_r2[i],false,'#3a429c',3.6));
// J
T(2,857,'J',{s:19,b:true});
S.push({type:'pie',center:[133,918],radius:[0,17],startAngle:90,silent:true,data:J_pie.map((v,i)=>({value:v,itemStyle:{color:['#a9c3ea','#6b5d93'][i]}})),
 label:{show:true,position:'inner',formatter:'{c}',fontSize:8,color:TXT,fontFamily:FONT},labelLine:{show:false}});
T(85,907,'opposite correlation\ndirection (12.8%)',{a:'center',lh:9});T(183,907,'same correlation\ndirection (87.2%)',{a:'center',lh:9});
venn([66,965,18.5,14.5],[100,965,30,22],'#c9826a','#dedede','#9b6b5d','#a8462f','#bdbdbd');
L([[77,960],[77,932],[109,919]],{z:70});
T(60,964,J_venn[0],{a:'center'});T(78,964,J_venn[1],{a:'center'});T(107,964,J_venn[2],{a:'center'});
T(4,967,'OPABAT\nbody weight\ncorrelators',{lh:9.5});
T(138,963,'human SAT\nBMI correlators\n(Emont et al., 2022)',{lh:9.5});
T(55,994,'p');T(59.5,997,'(perm.)',{s:6});T(82,994,'= 0');
T(55,1007,'p');T(59.5,1010,'(enrich.)',{s:6});T(88,1007,'= 7.96 e-9');
L([[248,888],[233,888],[210,953],[233,1018],[248,1018]]);L([[210,953],[728,953]]);
T(225,947,'OPABAT');T(227,961,'human SAT');
const JB1=[[291,861,363,936],[407,861,480,936],[522,861,595,936],[637,861,712,936]];
const JB2=[[291,964,365,1038],[407,964,480,1038],[523,964,597,1038],[638,964,712,1038]];
[J_p1,J_p2,J_p3,J_p4].forEach((d,i)=>scatterPlot(JB1[i],d,'body weight (z-transformed)',J_genes[i]+' relative\nprotein abundance',J_r1[i],i<2,'#8b1a1a',2.4));
[J_t1,J_t2,J_t3,J_t4].forEach((d,i)=>scatterPlot(JB2[i],d,'BMI (z-transformed)',J_genes[i]+' transcript\nabundance (TPM)',J_r2[i],i<2,'#3a429c',3.6));

// ================= RENDER =================
const chart=echarts.init(document.getElementById('c'),null,{renderer:'canvas'});
chart.setOption({animation:false,backgroundColor:'#fff',textStyle:{fontFamily:FONT},grid:grids,xAxis:xA,yAxis:yA,series:S,graphic:{elements:G}});
</script></body></html>
